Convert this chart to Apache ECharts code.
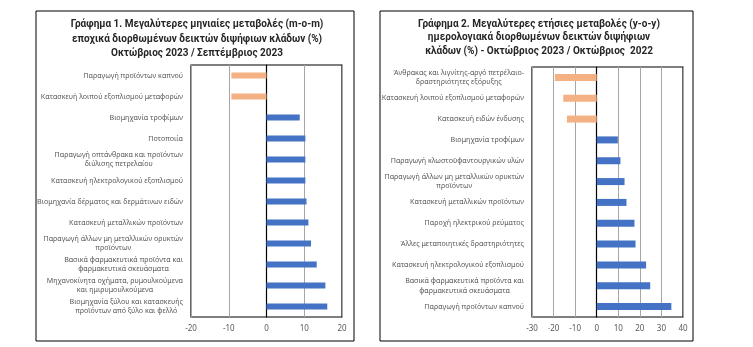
<!DOCTYPE html>
<html><head><meta charset="utf-8">
<script src="https://cdn.jsdelivr.net/npm/echarts@6/dist/echarts.min.js"></script>
<style>html,body{margin:0;padding:0;background:#fff}#c{width:753px;height:347px}</style>
</head><body><div id="c"></div>
<script>
const title1Lines = [
  "Γράφημα 1. Μεγαλύτερες μηνιαίες μεταβολές (m-o-m)",
  "εποχικά διορθωμένων δεικτών διψήφιων κλάδων (%)",
  "Οκτώβριος 2023 / Σεπτέμβριος 2023"
];
const title2Lines = [
  "Γράφημα 2. Μεγαλύτερες ετήσιες μεταβολές (y-o-y)",
  "ημερολογιακά διορθωμένων δεικτών διψήφιων",
  "κλάδων (%) - Οκτώβριος 2023 / Οκτώβριος  2022"
];

const categories1 = [
  "Παραγωγή προϊόντων καπνού",
  "Κατασκευή λοιπού εξοπλισμού μεταφορών",
  "Βιομηχανία τροφίμων",
  "Ποτοποιία",
  "Παραγωγή οπτάνθρακα και προϊόντων\nδιύλισης πετρελαίου",
  "Κατασκευή ηλεκτρολογικού εξοπλισμού",
  "Βιομηχανία δέρματος και δερμάτινων ειδών",
  "Κατασκευή μεταλλικών προϊόντων",
  "Παραγωγή άλλων μη μεταλλικών ορυκτών\nπροϊόντων",
  "Βασικά φαρμακευτικά προϊόντα και\nφαρμακευτικά σκευάσματα",
  "Μηχανοκίνητα οχήματα, ρυμουλκούμενα\nκαι ημιρυμουλκούμενα",
  "Βιομηχανία ξύλου και κατασκευής\nπροϊόντων από ξύλο και φελλό"
];
const values1 = [-9.3, -9.3, 8.8, 10.3, 10.3, 10.3, 10.6, 11.1, 11.8, 13.3, 15.6, 16.1];

const categories2 = [
  "Άνθρακας και λιγνίτης-αργό πετρέλαιο-\nδραστηριότητες εξόρυξης",
  "Κατασκευή λοιπού εξοπλισμού μεταφορών",
  "Κατασκευή ειδών ένδυσης",
  "Βιομηχανία τροφίμων",
  "Παραγωγή κλωστοϋφαντουργικών υλών",
  "Παραγωγή άλλων μη μεταλλικών ορυκτών\nπροϊόντων",
  "Κατασκευή μεταλλικών προϊόντων",
  "Παροχή ηλεκτρικού ρεύματος",
  "Άλλες μεταποιητικές δραστηριότητες",
  "Κατασκευή ηλεκτρολογικού εξοπλισμού",
  "Βασικά φαρμακευτικά προϊόντα και\nφαρμακευτικά σκευάσματα",
  "Παραγωγή προϊόντων καπνού"
];
const values2 = [-19.4, -15.5, -13.8, 9.8, 11.0, 12.9, 13.8, 17.5, 18.0, 22.9, 24.8, 34.6];

const xTicks1 = {min: -20, max: 20, interval: 10};
const xTicks2 = {min: -30, max: 40, interval: 10};

const NEG = '#F4B183', POS = '#4472C4';
const FONT = '"Noto Sans", sans-serif';
const TFONT = 'Roboto, "Noto Sans", sans-serif';
const labelFmt = v => v.split('\n').map(s => '{c|' + s + '}').join('\n');
const catLabel = {
  color: '#595959', fontFamily: FONT, fontSize: 7.1, margin: 8, lineHeight: 9.5,
  formatter: labelFmt, rich: {c: {align: 'center', color: '#595959', fontFamily: FONT, fontSize: 7.1, lineHeight: 9.5}}
};
function valAxis(idx, t) {
  return {
    type: 'value', gridIndex: idx, min: t.min, max: t.max, interval: t.interval,
    axisLine: {show: false}, axisTick: {show: false},
    axisLabel: {color: '#595959', fontFamily: FONT, fontSize: 8, margin: 8},
    splitLine: {show: true, lineStyle: {color: '#A6A6A6', width: 1}}
  };
}
function catAxis(idx, cats) {
  return {
    type: 'category', gridIndex: idx, data: cats, inverse: true,
    axisLine: {show: true, onZero: true, lineStyle: {color: '#000', width: 1.2}},
    axisTick: {show: false}, axisLabel: catLabel
  };
}
function barSeries(idx, vals, w) {
  return {
    type: 'bar', xAxisIndex: idx, yAxisIndex: idx, barWidth: w,
    data: vals.map(v => ({value: v, itemStyle: {color: v < 0 ? NEG : POS}}))
  };
}
function titles(lines, cx, tops) {
  return lines.map((t, i) => ({
    text: t, left: cx, top: tops[i], textAlign: 'center', padding: 0,
    textStyle: {fontFamily: TFONT, fontSize: 10, fontWeight: 'bold', color: '#262626'}
  }));
}
const chart = echarts.init(document.getElementById('c'), null, {renderer: 'canvas'});
chart.setOption({
  animation: false,
  title: titles(title1Lines, 197, [19, 34, 48]).concat(titles(title2Lines, 539, [19, 32, 46])),
  graphic: [
    {type: 'rect', shape: {x: 36, y: 11, width: 318, height: 330}, style: {fill: null, stroke: '#000', lineWidth: 1}, z: -1},
    {type: 'rect', shape: {x: 380, y: 11, width: 313, height: 330}, style: {fill: null, stroke: '#000', lineWidth: 1}, z: -1}
  ],
  grid: [
    {left: 191, top: 65, width: 151, height: 252, show: true, borderColor: '#000', borderWidth: 1.2, backgroundColor: 'transparent'},
    {left: 532, top: 67, width: 151, height: 250, show: true, borderColor: '#000', borderWidth: 1.2, backgroundColor: 'transparent'}
  ],
  xAxis: [valAxis(0, xTicks1), valAxis(1, xTicks2)],
  yAxis: [catAxis(0, categories1), catAxis(1, categories2)],
  series: [barSeries(0, values1, 6), barSeries(1, values2, 7)]
});
</script></body></html>
